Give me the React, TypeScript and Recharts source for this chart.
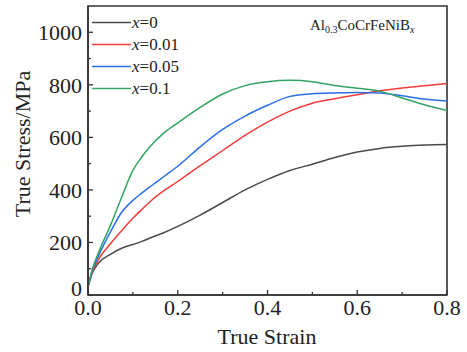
import React from "react";
import { Customized, LineChart, Line, ReferenceArea, XAxis, YAxis } from "recharts";

const strain = [0, 0.01, 0.023, 0.05, 0.075, 0.1, 0.12, 0.14, 0.17, 0.2, 0.25, 0.3, 0.35, 0.4, 0.45, 0.5, 0.55, 0.6, 0.65, 0.7, 0.75, 0.8];
const b0 = [32, 85, 121, 155, 178, 192, 204, 218, 238, 261, 304, 352, 400, 440, 474, 498, 523, 544, 558, 566, 571, 573];
const b001 = [32, 90, 134, 195, 245, 292, 326, 358, 398, 432, 492, 550, 608, 658, 700, 730, 747, 762, 777, 788, 796, 805];
const b005 = [32, 95, 147, 240, 315, 360, 388, 414, 452, 490, 564, 630, 681, 722, 756, 766, 769, 771, 769, 758, 746, 738];
const b01 = [32, 100, 160, 265, 372, 474, 526, 568, 618, 655, 714, 765, 797, 812, 817, 812, 797, 787, 776, 750, 724, 702];

const xTicks = [0, 0.1, 0.2, 0.3, 0.4, 0.5, 0.6, 0.7, 0.8];
const yTicks = [0, 100, 200, 300, 400, 500, 600, 700, 800, 900, 1000];

const series = [
  { key: "b0", label: "0", color: "#4a4a4a" },
  { key: "b001", label: "0.01", color: "#f23c3c" },
  { key: "b005", label: "0.05", color: "#2a6fe3" },
  { key: "b01", label: "0.1", color: "#33a463" },
];

const data = strain.map((s, i) => ({ s, b0: b0[i], b001: b001[i], b005: b005[i], b01: b01[i] }));

const FONT = "'Liberation Serif', 'DejaVu Serif', serif";
const AXIS = "#333";

function XTick(props: any) {
  const { x, y, payload } = props;
  const major = Math.round(payload.value * 10) % 2 === 0;
  return (
    <g>
      <line x1={x} x2={x} y1={y} y2={y - (major ? 5 : 3)} stroke={AXIS} strokeWidth={1.3} />
      {major && (
        <text x={x} y={y + 20} textAnchor="middle" fontFamily={FONT} fontSize={22} fill="#222">
          {payload.value.toFixed(1)}
        </text>
      )}
    </g>
  );
}

function YTick(props: any) {
  const { x, y, payload } = props;
  const major = payload.value % 200 === 0;
  // the "0" label sits a little above the axis in the original
  const shift = payload.value === 0 ? -7 : 0;
  return (
    <g>
      <line x1={x} x2={x + (major ? 5 : 3)} y1={y} y2={y} stroke={AXIS} strokeWidth={1.3} />
      {major && (
        <text x={x - 6} y={y + shift} dy="0.35em" textAnchor="end" fontFamily={FONT} fontSize={22} fill="#222">
          {payload.value}
        </text>
      )}
    </g>
  );
}

function Overlay() {
  return (
    <g fontFamily={FONT} fill="#222">
      {series.map((d, i) => {
        const y = 22.5 + i * 22;
        return (
          <g key={d.key}>
            <line x1={92} x2={131} y1={y} y2={y} stroke={d.color} strokeWidth={1.5} />
            <text x={132} y={y} dy="0.35em" fontSize={17}>
              <tspan fontStyle="italic">x</tspan>={d.label}
            </text>
          </g>
        );
      })}
      <text x={310} y={30} fontSize={15}>
        Al<tspan fontSize={10} dy={3}>0.3</tspan>
        <tspan dy={-3}>CoCrFeNiB</tspan>
        <tspan fontSize={10} dy={3} fontStyle="italic">x</tspan>
      </text>
      <text x={267} y={344} textAnchor="middle" fontSize={22}>
        True Strain
      </text>
      <text transform="translate(30,144) rotate(-90)" textAnchor="middle" fontSize={22}>
        True Stress/MPa
      </text>
    </g>
  );
}

export default function App() {
  return (
    <div style={{ position: "absolute", left: 0, top: 0, background: "#fff" }}>
      <LineChart width={467} height={352} data={data} margin={{ top: 6, right: 20, bottom: 27, left: 28 }}>
        <XAxis
          dataKey="s"
          type="number"
          domain={[0, 0.8]}
          ticks={xTicks}
          tick={<XTick />}
          tickLine={false}
          tickSize={0}
          tickMargin={0}
          height={30}
          axisLine={{ stroke: AXIS, strokeWidth: 1.6 }}
          interval={0}
        />
        <YAxis
          type="number"
          domain={[0, 1100]}
          ticks={yTicks}
          tick={<YTick />}
          tickLine={false}
          tickSize={0}
          tickMargin={0}
          width={60}
          axisLine={{ stroke: AXIS, strokeWidth: 1.6 }}
          interval={0}
          allowDataOverflow
        />
        <ReferenceArea x1={0} x2={0.8} y1={0} y2={1100} fill="none" stroke={AXIS} strokeWidth={1.6} fillOpacity={0} />
        {series.map((d) => (
          <Line
            key={d.key}
            dataKey={d.key}
            type="monotone"
            stroke={d.color}
            strokeWidth={1.5}
            dot={false}
            isAnimationActive={false}
          />
        ))}
        <Customized component={Overlay} />
      </LineChart>
    </div>
  );
}
